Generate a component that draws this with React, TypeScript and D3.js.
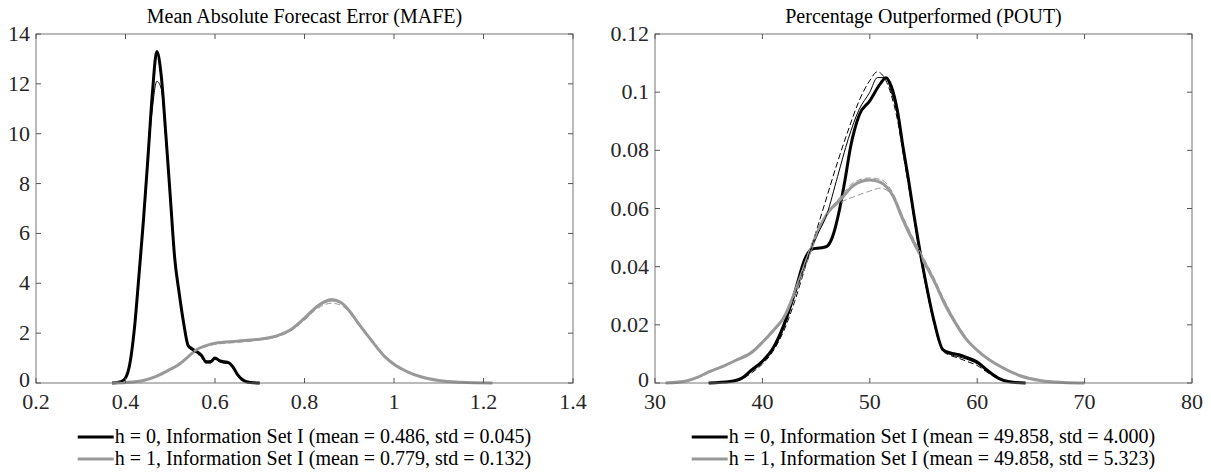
import React, { useEffect, useRef } from "react";
import * as d3 from "d3";

// ---- MAFE panel (left) ----
const mafeTitle = "Mean Absolute Forecast Error (MAFE)";
const mafeXTicks = [0.2, 0.4, 0.6, 0.8, 1, 1.2, 1.4];
const mafeYTicks = [0, 2, 4, 6, 8, 10, 12, 14];

const mafeGridH0 = [0.37, 0.39, 0.4, 0.41, 0.42, 0.43, 0.44, 0.45, 0.46, 0.47, 0.48, 0.49, 0.5, 0.51, 0.52, 0.53, 0.54, 0.55, 0.56, 0.57, 0.58, 0.59, 0.6, 0.61, 0.62, 0.63, 0.64, 0.65, 0.66, 0.67, 0.68, 0.7];
const mafeH0 = [0, 0.05, 0.2, 0.8, 2.2, 4.3, 6.5, 9.0, 11.6, 13.3, 12.3, 10.0, 7.5, 5.0, 3.6, 2.4, 1.5, 1.35, 1.25, 1.1, 0.85, 0.85, 1.0, 0.9, 0.85, 0.82, 0.65, 0.35, 0.15, 0.05, 0.02, 0];
const mafeH0Thin = [0, 0.05, 0.22, 0.85, 2.3, 4.4, 6.6, 9.0, 11.0, 12.1, 11.8, 9.8, 7.4, 5.0, 3.6, 2.4, 1.5, 1.3, 1.2, 1.05, 0.8, 0.8, 0.95, 0.88, 0.8, 0.78, 0.6, 0.32, 0.14, 0.05, 0.02, 0];
const mafeH0Dash = [0, 0.04, 0.18, 0.78, 2.25, 4.35, 6.6, 9.1, 11.7, 13.1, 12.2, 9.9, 7.5, 5.1, 3.7, 2.45, 1.55, 1.4, 1.2, 1.0, 0.9, 0.9, 0.95, 0.85, 0.8, 0.8, 0.62, 0.33, 0.13, 0.05, 0.02, 0];

const mafeGridH1 = [0.37, 0.4, 0.44, 0.47, 0.5, 0.52, 0.54, 0.56, 0.58, 0.6, 0.65, 0.7, 0.74, 0.77, 0.8, 0.83, 0.86, 0.88, 0.9, 0.92, 0.95, 0.98, 1.0, 1.03, 1.06, 1.1, 1.15, 1.22];
const mafeH1 = [0, 0.02, 0.1, 0.28, 0.55, 0.75, 1.05, 1.35, 1.5, 1.6, 1.68, 1.76, 1.9, 2.15, 2.6, 3.1, 3.35, 3.25, 2.9, 2.4, 1.7, 1.05, 0.75, 0.45, 0.25, 0.1, 0.03, 0];
const mafeH1Thin = [0, 0.02, 0.1, 0.27, 0.54, 0.74, 1.04, 1.33, 1.48, 1.58, 1.66, 1.74, 1.88, 2.12, 2.56, 3.05, 3.28, 3.2, 2.88, 2.4, 1.72, 1.07, 0.77, 0.46, 0.26, 0.1, 0.03, 0];
const mafeH1Dash = [0, 0.02, 0.11, 0.29, 0.56, 0.76, 1.05, 1.32, 1.46, 1.55, 1.63, 1.72, 1.86, 2.1, 2.52, 3.0, 3.2, 3.13, 2.84, 2.38, 1.72, 1.08, 0.78, 0.47, 0.26, 0.11, 0.03, 0];

// ---- POUT panel (right) ----
const poutTitle = "Percentage Outperformed (POUT)";
const poutXTicks = [30, 40, 50, 60, 70, 80];
const poutYTicks = [0, 0.02, 0.04, 0.06, 0.08, 0.1, 0.12];

const poutGridH0 = [35, 37, 38, 39, 40, 41, 42, 43, 44, 44.6, 45.5, 46, 46.5, 47.2, 47.7, 48.2, 49, 50, 51, 51.5, 52, 52.6, 53.1, 53.6, 54.1, 54.5, 55.3, 56, 56.8, 57.5, 58.3, 59, 60, 61, 62, 63, 64.5];
const poutH0 = [0, 0.0005, 0.0015, 0.0045, 0.0075, 0.012, 0.02, 0.031, 0.043, 0.046, 0.0465, 0.047, 0.05, 0.06, 0.07, 0.081, 0.092, 0.097, 0.103, 0.105, 0.102, 0.093, 0.081, 0.07, 0.058, 0.049, 0.033, 0.021, 0.0115, 0.0103, 0.0097, 0.0088, 0.0072, 0.0042, 0.0016, 0.0004, 0];

const poutGridH0b = [35, 37, 38, 39, 40, 41, 42, 43, 44, 45, 46, 47, 48, 49, 50, 50.7, 51.5, 52, 52.6, 53.1, 53.6, 54.1, 54.5, 55.3, 56, 56.8, 57.5, 58.3, 59, 60, 61, 62, 63, 64.5];
const poutH0Thin = [0, 0.0005, 0.0014, 0.004, 0.007, 0.0115, 0.019, 0.03, 0.041, 0.05, 0.058, 0.071, 0.084, 0.094, 0.1, 0.105, 0.105, 0.1, 0.092, 0.08, 0.069, 0.057, 0.048, 0.032, 0.021, 0.0115, 0.0098, 0.009, 0.0082, 0.0066, 0.0038, 0.0015, 0.0004, 0];
const poutH0Dash = [0, 0.0004, 0.0012, 0.0035, 0.0065, 0.011, 0.018, 0.028, 0.04, 0.052, 0.064, 0.076, 0.087, 0.097, 0.104, 0.107, 0.104, 0.099, 0.09, 0.079, 0.068, 0.057, 0.048, 0.032, 0.02, 0.011, 0.0095, 0.0085, 0.0075, 0.006, 0.0035, 0.0014, 0.0003, 0];

const poutGridH1 = [31, 33, 34, 35, 36.5, 37.6, 39, 40, 41, 42, 43.2, 44.3, 45.4, 46, 47.5, 48.5, 50, 51, 52.2, 53.1, 54, 55, 56, 57, 57.8, 59, 60.3, 62, 64, 66, 68, 70];
const poutH1 = [0, 0.0008, 0.002, 0.0038, 0.006, 0.0079, 0.0105, 0.014, 0.018, 0.0225, 0.033, 0.044, 0.054, 0.058, 0.064, 0.068, 0.0698, 0.069, 0.064, 0.056, 0.049, 0.042, 0.035, 0.027, 0.0217, 0.015, 0.0103, 0.006, 0.0025, 0.0008, 0.0002, 0];
const poutH1Thin = [0, 0.0007, 0.0018, 0.0035, 0.0058, 0.0078, 0.0102, 0.0135, 0.0175, 0.0222, 0.032, 0.043, 0.054, 0.058, 0.065, 0.069, 0.0705, 0.07, 0.065, 0.057, 0.05, 0.043, 0.036, 0.028, 0.0225, 0.0155, 0.0105, 0.0062, 0.0027, 0.0009, 0.0002, 0];
const poutH1Dash = [0, 0.0009, 0.0021, 0.004, 0.0062, 0.0082, 0.011, 0.0145, 0.0185, 0.023, 0.033, 0.045, 0.055, 0.058, 0.0625, 0.064, 0.066, 0.067, 0.064, 0.057, 0.05, 0.043, 0.0355, 0.028, 0.0222, 0.0152, 0.0102, 0.0058, 0.0024, 0.0008, 0.0002, 0];

const legendMafe = [
  "h = 0, Information Set I (mean = 0.486, std = 0.045)",
  "h = 1, Information Set I (mean = 0.779, std = 0.132)",
];
const legendPout = [
  "h = 0, Information Set I (mean = 49.858, std = 4.000)",
  "h = 1, Information Set I (mean = 49.858, std = 5.323)",
];

const BLACK = "#000000";
const GRAY = "#999999";
const FONT = "Liberation Serif";

const zip = (xs, ys) => xs.map((x, i) => [x, ys[i]]);

const panels = [
  {
    title: mafeTitle, left: 36, right: 573, xDomain: [0.2, 1.4], yDomain: [0, 14],
    xTicks: mafeXTicks, yTicks: mafeYTicks, legend: legendMafe,
    series: [
      { pts: zip(mafeGridH0, mafeH0), color: BLACK, w: 3, dash: null },
      { pts: zip(mafeGridH1, mafeH1), color: GRAY, w: 3, dash: null },
      { pts: zip(mafeGridH0, mafeH0Thin), color: BLACK, w: 1, dash: null },
      { pts: zip(mafeGridH0, mafeH0Dash), color: BLACK, w: 1, dash: "6,3" },
      { pts: zip(mafeGridH1, mafeH1Thin), color: GRAY, w: 1, dash: null },
      { pts: zip(mafeGridH1, mafeH1Dash), color: GRAY, w: 1, dash: "6,3" },
    ],
  },
  {
    title: poutTitle, left: 655, right: 1192, xDomain: [30, 80], yDomain: [0, 0.12],
    xTicks: poutXTicks, yTicks: poutYTicks, legend: legendPout,
    series: [
      { pts: zip(poutGridH0, poutH0), color: BLACK, w: 3, dash: null },
      { pts: zip(poutGridH1, poutH1), color: GRAY, w: 3, dash: null },
      { pts: zip(poutGridH0b, poutH0Thin), color: BLACK, w: 1, dash: null },
      { pts: zip(poutGridH0b, poutH0Dash), color: BLACK, w: 1, dash: "6,3" },
      { pts: zip(poutGridH1, poutH1Thin), color: GRAY, w: 1, dash: "6,3" },
      { pts: zip(poutGridH1, poutH1Dash), color: GRAY, w: 1, dash: "6,3" },
    ],
  },
];

const TOP = 34;
const BOTTOM = 383;

const App = () => {
  const svgRef = useRef(null);

  useEffect(() => {
    const svg = d3.select(svgRef.current);
    svg.selectAll("*").remove();
    const fmt = d3.format("~g");

    panels.forEach((p) => {
      const x = d3.scaleLinear().domain(p.xDomain).range([p.left, p.right]);
      const y = d3.scaleLinear().domain(p.yDomain).range([BOTTOM, TOP]);
      const g = svg.append("g");

      const line = d3
        .line()
        .x((d) => x(d[0]))
        .y((d) => y(d[1]))
        .curve(d3.curveMonotoneX);

      p.series.forEach((s) => {
        g.append("path")
          .datum(s.pts)
          .attr("fill", "none")
          .attr("stroke", s.color)
          .attr("stroke-width", s.w)
          .attr("stroke-linejoin", "round")
          .attr("stroke-dasharray", s.dash)
          .attr("d", line);
      });

      // box
      g.append("rect")
        .attr("x", p.left)
        .attr("y", TOP)
        .attr("width", p.right - p.left)
        .attr("height", BOTTOM - TOP)
        .attr("fill", "none")
        .attr("stroke", "#777")
        .attr("stroke-width", 1);

      const tl = 5;
      // x ticks, inward at bottom and top
      p.xTicks.forEach((t) => {
        g.append("line")
          .attr("x1", x(t)).attr("x2", x(t))
          .attr("y1", BOTTOM).attr("y2", BOTTOM - tl)
          .attr("stroke", "#555");
        g.append("line")
          .attr("x1", x(t)).attr("x2", x(t))
          .attr("y1", TOP).attr("y2", TOP + tl)
          .attr("stroke", "#555");
        g.append("text")
          .attr("x", x(t))
          .attr("y", BOTTOM + 26)
          .attr("text-anchor", "middle")
          .attr("font-family", FONT)
          .attr("font-size", 22)
          .attr("fill", "#262626")
          .text(fmt(t));
      });

      p.yTicks.forEach((t) => {
        g.append("line")
          .attr("x1", p.left).attr("x2", p.left + tl)
          .attr("y1", y(t)).attr("y2", y(t))
          .attr("stroke", "#555");
        g.append("line")
          .attr("x1", p.right).attr("x2", p.right - tl)
          .attr("y1", y(t)).attr("y2", y(t))
          .attr("stroke", "#555");
        g.append("text")
          .attr("x", p.left - 6)
          .attr("y", t === 0 ? y(t) + 4 : y(t) + 7)
          .attr("text-anchor", "end")
          .attr("font-family", FONT)
          .attr("font-size", 22)
          .attr("fill", "#262626")
          .text(fmt(t));
      });

      g.append("text")
        .attr("x", (p.left + p.right) / 2)
        .attr("y", 23)
        .attr("text-anchor", "middle")
        .attr("font-family", FONT)
        .attr("font-size", 20)
        .attr("fill", "#000")
        .text(p.title);

      // legend below the axes, centred
      const legend = g.append("g");
      const sample = 36;
      const colors = [BLACK, GRAY];
      const rows = p.legend.map((txt, i) => {
        const row = legend.append("g");
        const ty = 443 + i * 22;
        row.append("line")
          .attr("x1", 0).attr("x2", sample)
          .attr("y1", ty - 6).attr("y2", ty - 6)
          .attr("stroke", colors[i])
          .attr("stroke-width", 3);
        const text = row.append("text")
          .attr("x", sample + 1)
          .attr("y", ty)
          .attr("font-family", FONT)
          .attr("font-size", 20)
          .attr("fill", "#000")
          .text(txt);
        return { row, width: sample + 1 + text.node().getComputedTextLength() };
      });
      const maxW = d3.max(rows, (r) => r.width);
      const lx = (p.left + p.right) / 2 - maxW / 2;
      rows.forEach((r) => r.row.attr("transform", `translate(${lx},0)`));
    });
  }, []);

  return (
    <svg
      ref={svgRef}
      width={1211}
      height={473}
      style={{ position: "absolute", left: 0, top: 0, background: "#fff" }}
    />
  );
};

export default App;
